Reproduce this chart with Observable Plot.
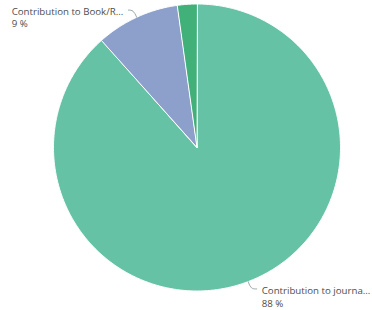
<!DOCTYPE html>
<html><head><meta charset="utf-8">
<script src="https://cdn.jsdelivr.net/npm/d3@7"></script>
<script src="https://cdn.jsdelivr.net/npm/@observablehq/plot@0.6"></script>
<style>body{margin:0;background:#fff}</style></head>
<body><div id="chart"></div>
<script>
const categories = ["Contribution to journal", "Contribution to Book/Report", "Other contribution"];
const shares = [88.4, 9.4, 2.2];
const colors = ["#66c2a5", "#8da0cb", "#41b079"];
const labelShown = [true, true, false];

const FONT = "Open Sans";
const FS = 9.7;
const total = d3.sum(shares);
let acc = 0;
const slices = categories.map((name, i) => {
  const a0 = acc / total * 2 * Math.PI;
  acc += shares[i];
  const a1 = acc / total * 2 * Math.PI;
  return {name, value: shares[i], a0, a1, mid: (a0 + a1) / 2, color: colors[i], show: labelShown[i]};
});

// polygon points for each slice (angle clockwise from top)
const polys = slices.map(s => {
  const pts = [{x: 0, y: 0}];
  const n = Math.max(2, Math.ceil((s.a1 - s.a0) / 0.01));
  for (let k = 0; k <= n; k++) {
    const a = s.a0 + (s.a1 - s.a0) * k / n;
    pts.push({x: Math.sin(a), y: Math.cos(a)});
  }
  return pts;
});

const ctx = document.createElement("canvas").getContext("2d");
ctx.font = `${FS}px "${FONT}"`;
const trunc = t => t.length > 22 ? t.slice(0, 22) + "..." : t;

const leaders = [];
const labels = [];
slices.forEach((s, i) => {
  if (!s.show) return;
  const sx = Math.sin(s.mid), sy = Math.cos(s.mid);
  const right = sx >= 0;
  const ex = sx * 1.055, ey = sy * 1.055;
  const endx = ex + (right ? 0.04 : -0.035);
  leaders.push([{x: sx, y: sy, i}, {x: ex, y: ey, i}, {x: endx, y: ey, i}]);
  const line1 = trunc(s.name);
  const txt = line1 + "\n" + Math.round(s.value) + " %";
  const w = ctx.measureText(line1).width;
  labels.push({x: endx, y: ey, text: txt, dx: right ? 5 : -(w + 5), dy: ey > 0 ? -4.5 : -3.5});
});

const marks = [];
polys.forEach((p, i) => marks.push(Plot.line(p, {x: "x", y: "y", fill: colors[i], stroke: "#fff", strokeWidth: 1, curve: "linear-closed"})));
leaders.forEach(l => marks.push(Plot.line(l, {x: "x", y: "y", stroke: "#9aa", strokeWidth: 1, curve: "basis"})));
labels.forEach(l => marks.push(Plot.text([l], {x: "x", y: "y", text: "text", textAnchor: "start", lineAnchor: "top", dx: l.dx, dy: l.dy, fill: "#4d4d4d", fontSize: FS, lineHeight: 1.3})));

const chart = Plot.plot({
  width: 372, height: 310,
  marginLeft: 53, marginRight: 32, marginTop: 3.5, marginBottom: 19.5,
  x: {domain: [-1, 1], axis: null},
  y: {domain: [-1, 1], axis: null},
  style: {fontFamily: FONT, background: "#fff"},
  marks
});
document.getElementById("chart").appendChild(chart);
</script>
</body></html>
